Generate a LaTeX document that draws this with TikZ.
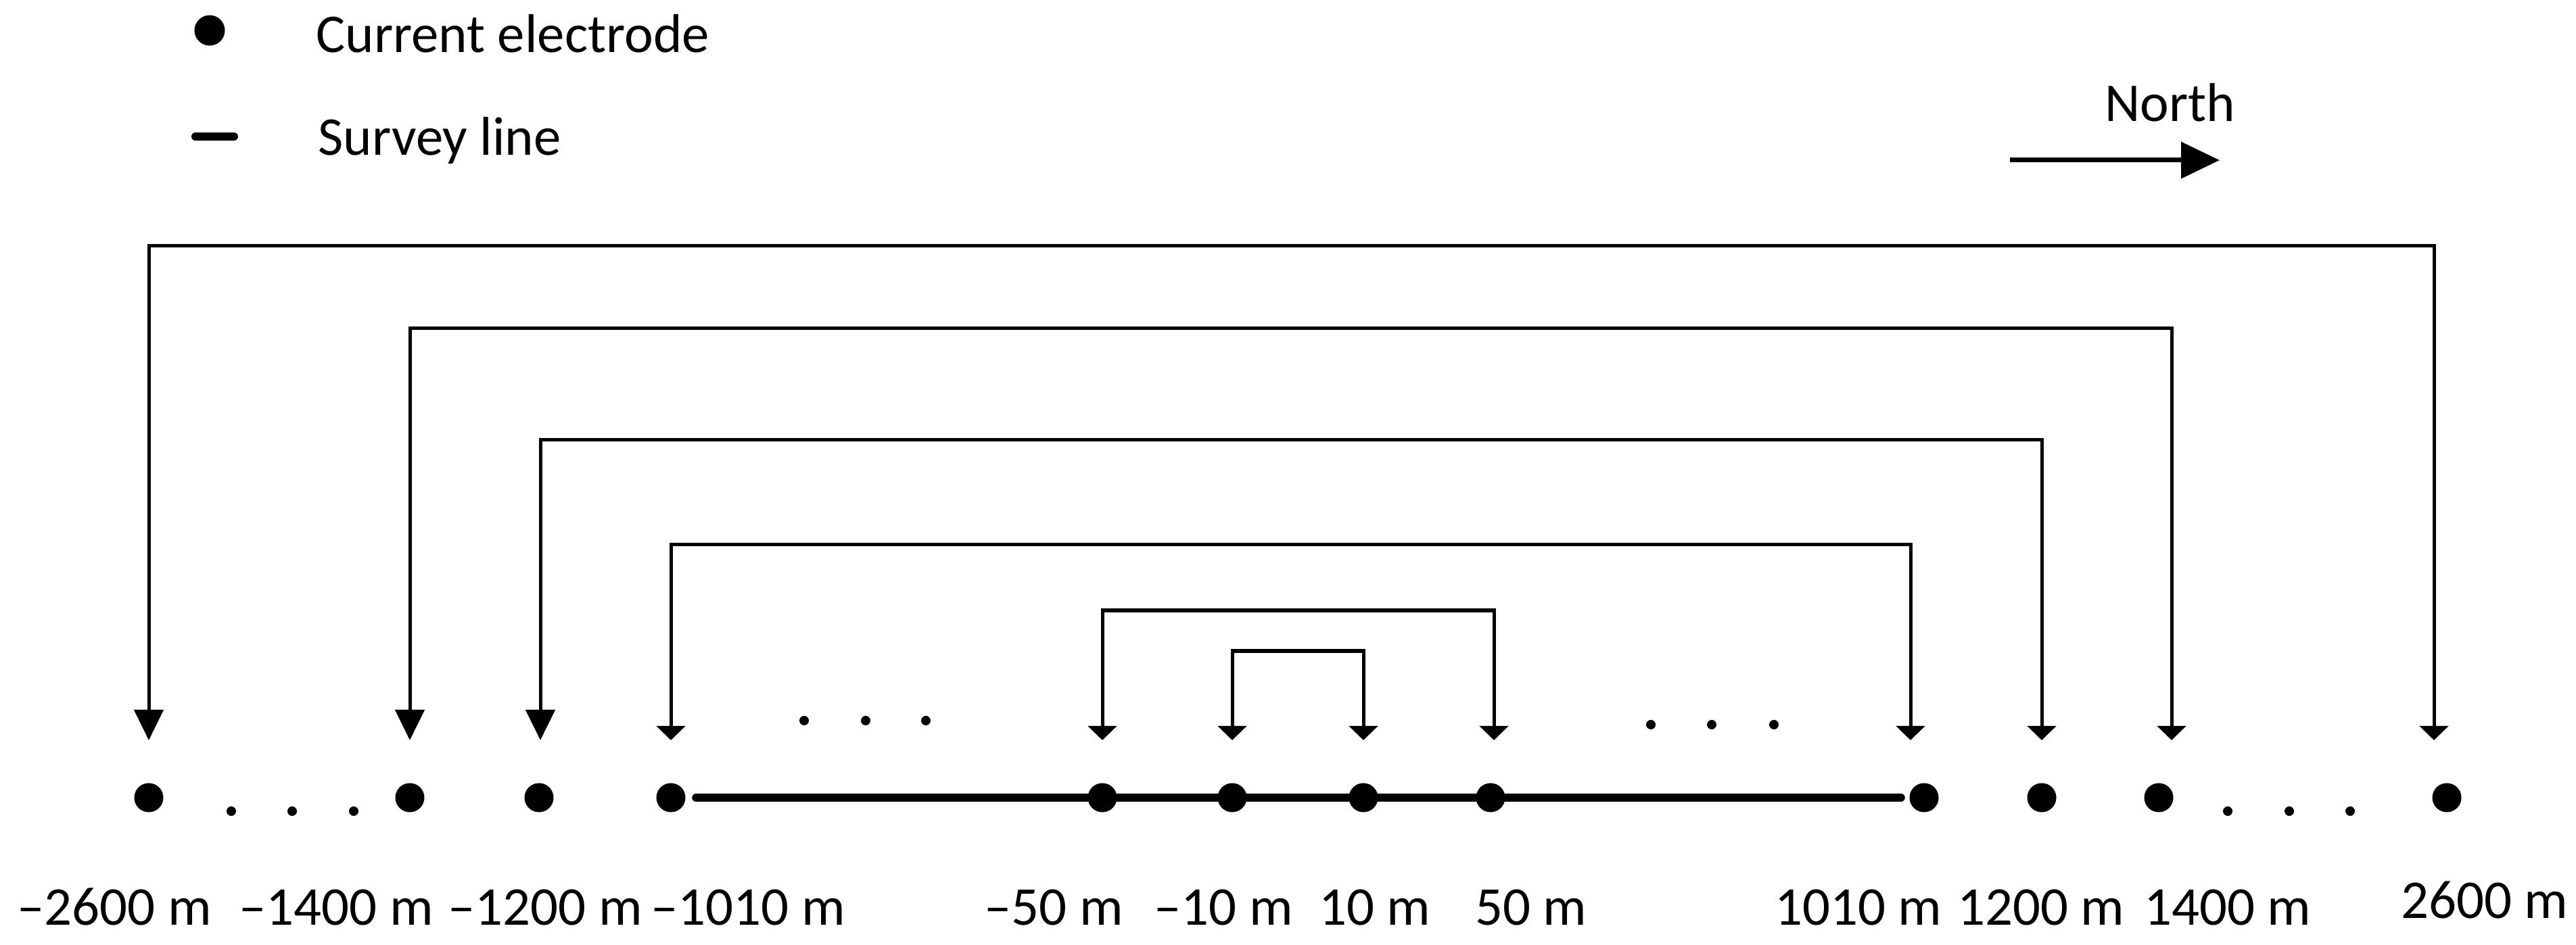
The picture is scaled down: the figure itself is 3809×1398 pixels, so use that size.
\documentclass[tikz,border=0pt]{standalone}
\usepackage{fontspec}
\setmainfont{Carlito}
\usetikzlibrary{arrows.meta}

\tikzstyle{eN}=[circle,fill=black,minimum size = 0.43cm,inner sep = 0pt]
\tikzstyle{lN}=[anchor=base,inner sep = 0pt,font=\fontsize{23pt}{28pt}\selectfont]
\tikzstyle{tN}=[anchor=base west,inner sep = 0pt,font=\fontsize{23pt}{28pt}\selectfont]
\tikzstyle{bS}=[line width=0.05cm,{Triangle[length=0.21cm,width=0.42cm]}-{Triangle[length=0.21cm,width=0.42cm]}]
\tikzstyle{bB}=[line width=0.05cm,{Triangle[length=0.45cm,width=0.43cm]}-{Triangle[length=0.21cm,width=0.42cm]}]
\tikzstyle{sL}=[line width=0.12cm,line cap=round]
\tikzstyle{nA}=[line width=0.07cm,-{Triangle[length=0.57cm,width=0.53cm]}]

\begin{document}
\begin{tikzpicture}[x=0.01cm,y=-0.01cm]
    \useasboundingbox (0,0) rectangle (3809,1398);

    % legend
    \node[eN,minimum size = 0.45cm] (legDot) at (310,45) {};
    \node[tN] (legDotT) at (467,78) {Current electrode};
    \draw[sL] (289,202) -- (346,202);
    \node[tN] (legLineT) at (470,230) {Survey line};

    % north arrow
    \node[tN] (north) at (3112,180) {North};
    \coordinate (nS) at (2972,237);
    \coordinate (nE) at (3282,237);
    \draw[nA] (nS) -- (nE);

    % electrodes
    \node[eN] (em2600) at (220,1180) {};
    \node[eN] (em1400) at (606,1180) {};
    \node[eN] (em1200) at (797,1180) {};
    \node[eN] (em1010) at (992,1180) {};
    \node[eN] (em50) at (1630,1180) {};
    \node[eN] (em10) at (1822,1180) {};
    \node[eN] (ep10) at (2016,1180) {};
    \node[eN] (ep50) at (2204,1180) {};
    \node[eN] (ep1010) at (2845,1180) {};
    \node[eN] (ep1200) at (3019,1180) {};
    \node[eN] (ep1400) at (3192,1180) {};
    \node[eN] (ep2600) at (3618,1180) {};

    % survey line
    \draw[sL] ([xshift=0.15cm]em1010.east) -- ([xshift=-0.12cm]ep1010.west);

    % dots
    \fill (342,1200) circle (0.07cm) (432,1200) circle (0.07cm) (523,1200) circle (0.07cm);
    \fill (3294,1200) circle (0.07cm) (3385,1200) circle (0.07cm) (3475,1200) circle (0.07cm);
    \fill (1189,1066) circle (0.07cm) (1280,1066) circle (0.07cm) (1369,1066) circle (0.07cm);
    \fill (2441,1072) circle (0.07cm) (2531,1072) circle (0.07cm) (2623,1072) circle (0.07cm);

    % arrow ends
    \coordinate (am2600) at (220,1095);
    \coordinate (am1400) at (606,1095);
    \coordinate (am1200) at (799,1095);
    \coordinate (am1010) at (992,1095);
    \coordinate (am50) at (1630,1095);
    \coordinate (am10) at (1822,1095);
    \coordinate (ap10) at (2016,1095);
    \coordinate (ap50) at (2209,1095);
    \coordinate (ap1010) at (2825,1095);
    \coordinate (ap1200) at (3019,1095);
    \coordinate (ap1400) at (3211,1095);
    \coordinate (ap2600) at (3599,1095);

    \draw[bB] (am2600) -- (am2600 |- 0,364) -- (ap2600 |- 0,364) -- (ap2600);
    \draw[bB] (am1400) -- (am1400 |- 0,486) -- (ap1400 |- 0,486) -- (ap1400);
    \draw[bB] (am1200) -- (am1200 |- 0,651) -- (ap1200 |- 0,651) -- (ap1200);
    \draw[bS] (am1010) -- (am1010 |- 0,806) -- (ap1010 |- 0,806) -- (ap1010);
    \draw[bS] (am50) -- (am50 |- 0,903) -- (ap50 |- 0,903) -- (ap50);
    \draw[bS] (am10) -- (am10 |- 0,963) -- (ap10 |- 0,963) -- (ap10);

    % labels
    \node[lN] (lm2600) at (169,1368) {–2600 m};
    \node[lN] (lm1400) at (497,1368) {–1400 m};
    \node[lN] (lm1200) at (806,1368) {–1200 m};
    \node[lN] (lm1010) at (1106,1368) {–1010 m};
    \node[lN] (lm50) at (1558,1368) {–50 m};
    \node[lN] (lm10) at (1809,1368) {–10 m};
    \node[lN] (lp10) at (2033,1368) {10 m};
    \node[lN] (lp50) at (2264,1368) {50 m};
    \node[lN] (lp1010) at (2748,1368) {1010 m};
    \node[lN] (lp1200) at (3018,1368) {1200 m};
    \node[lN] (lp1400) at (3294,1368) {1400 m};
    \node[lN] (lp2600) at (3674,1358) {2600 m};
\end{tikzpicture}
\end{document}
